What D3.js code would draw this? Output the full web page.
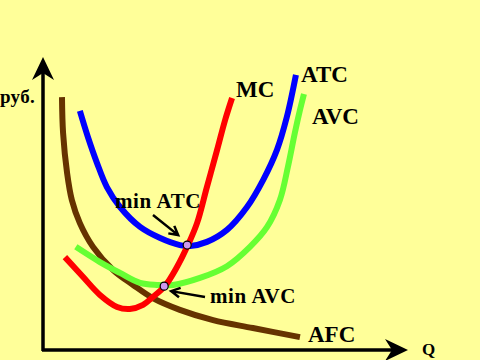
<!DOCTYPE html>
<html><head><meta charset="utf-8">
<script src="https://cdn.jsdelivr.net/npm/d3@7"></script>
<style>
html,body{margin:0;padding:0;background:#FFFF99;}
svg{display:block;}
text{font-family:"Liberation Serif","Times New Roman",serif;font-weight:bold;fill:#000;}
</style></head>
<body>
<script>
// Data (Q in 0..100 units, cost in 0..100 units)
const mcQ  = [6.0,11.0,15.6,20.3,23.8,27.4,30.1,33.4,36.7,39.7,42.2,44.9,47.7,49.9,51.8];
const mcC  = [31.7,24.9,18.8,14.7,14.0,15.4,18.1,21.8,28.3,35.8,43.3,55.6,68.3,78.5,86.0];
const atcQ = [10.1,12.3,14.8,17.5,21.1,26.6,32.1,37.5,40.3,44.9,50.4,55.9,60.3,64.1,66.8,69.3];
const atcC = [81.6,72.7,63.8,55.6,48.8,42.0,38.2,35.8,35.5,36.9,41.0,48.8,58.0,68.3,79.5,93.9];
const avcQ = [9.0,15.6,21.1,26.6,31.2,35.6,43.0,50.4,56.7,61.4,64.9,67.1,69.0,70.4,71.5];
const avcC = [35.2,30.0,26.3,22.9,22.2,22.2,24.6,28.6,35.2,42.0,51.2,62.5,74.1,81.9,87.4];
const afcQ = [5.2,5.5,6.6,7.9,10.1,13.7,19.2,24.7,30.1,37.5,46.6,57.5,70.4];
const afcC = [86.3,74.1,60.4,51.2,43.3,35.2,27.3,22.2,17.7,13.7,10.2,7.5,4.4];
const minPointsQ = [39.5,33.2];
const minPointsC = [35.8,21.8];
const minLabels = ["min ATC","min AVC"];
const curveNames = ["MC","ATC","AVC","AFC"];
const axisLabels = ["руб.","Q"];

const W=480,H=360;
const svg=d3.select("body").append("svg").attr("width",W).attr("height",H);
svg.append("rect").attr("width",W).attr("height",H).attr("fill","#FFFF99");

const x=d3.scaleLinear().domain([0,100]).range([43,408]);
const y=d3.scaleLinear().domain([0,100]).range([350,57]);

// axes
const ax=svg.append("g");
ax.append("line").attr("x1",x(0)).attr("y1",y(0)+1).attr("x2",x(0)).attr("y2",y(100)+10)
  .attr("stroke","#000").attr("stroke-width",3.5);
ax.append("line").attr("x1",x(0)-1).attr("y1",y(0)).attr("x2",x(100)-10).attr("y2",y(0))
  .attr("stroke","#000").attr("stroke-width",3.5);
// arrowheads
const yt=[x(0),y(100)];
ax.append("path").attr("d",`M${yt[0]},${yt[1]} L${yt[0]+11},${yt[1]+23} L${yt[0]},${yt[1]+16} L${yt[0]-11},${yt[1]+23} Z`).attr("fill","#000");
const xt=[x(100),y(0)];
ax.append("path").attr("d",`M${xt[0]},${xt[1]} L${xt[0]-23},${xt[1]-11} L${xt[0]-16},${xt[1]} L${xt[0]-23},${xt[1]+11} Z`).attr("fill","#000");

const line=d3.line().x(d=>x(d[0])).y(d=>y(d[1])).curve(d3.curveCatmullRom.alpha(0.5));
const series=[
  {q:afcQ,c:afcC,color:"#663300"},
  {q:avcQ,c:avcC,color:"#66FF33"},
  {q:atcQ,c:atcC,color:"#0000FF"},
  {q:mcQ,c:mcC,color:"#FF0000"}
];
series.forEach(s=>{
  svg.append("path").datum(d3.zip(s.q,s.c)).attr("d",line)
    .attr("fill","none").attr("stroke",s.color).attr("stroke-width",6)
    .attr("stroke-linecap","butt").attr("stroke-linejoin","round");
});

// min points
svg.selectAll("circle.m").data(d3.zip(minPointsQ,minPointsC)).join("circle")
  .attr("cx",d=>x(d[0])).attr("cy",d=>y(d[1])).attr("r",4)
  .attr("fill","#CC99EE").attr("stroke","#000").attr("stroke-width",1.2);

// annotation arrows
function arrow(x1,y1,x2,y2){
  const a=Math.atan2(y2-y1,x2-x1), L=10, sp=0.5;
  const p1=[x2-L*Math.cos(a-sp),y2-L*Math.sin(a-sp)];
  const p2=[x2-L*Math.cos(a+sp),y2-L*Math.sin(a+sp)];
  svg.append("path").attr("d",`M${x1},${y1} L${x2},${y2} M${p1[0]},${p1[1]} L${x2},${y2} L${p2[0]},${p2[1]}`)
    .attr("fill","none").attr("stroke","#000").attr("stroke-width",2.5);
}
arrow(153,215,x(minPointsQ[0])-9,y(minPointsC[0])-10);
arrow(205,297,x(minPointsQ[1])+7,y(minPointsC[1])+5);

// labels
const lab=[
  [curveNames[0],236,97,23,0],
  [curveNames[1],301,82,23,0],
  [curveNames[2],312,124,23,0],
  [curveNames[3],308,342,23,0],
  [minLabels[0],115,208,21,0.6],
  [minLabels[1],210,303,21,0.6],
  [axisLabels[0],0,103,19,0.3],
  [axisLabels[1],422,355,17,0]
];
lab.forEach(l=>svg.append("text").attr("x",l[1]).attr("y",l[2]).attr("font-size",l[3])
  .attr("letter-spacing",l[4]).text(l[0]));
</script>
</body></html>
